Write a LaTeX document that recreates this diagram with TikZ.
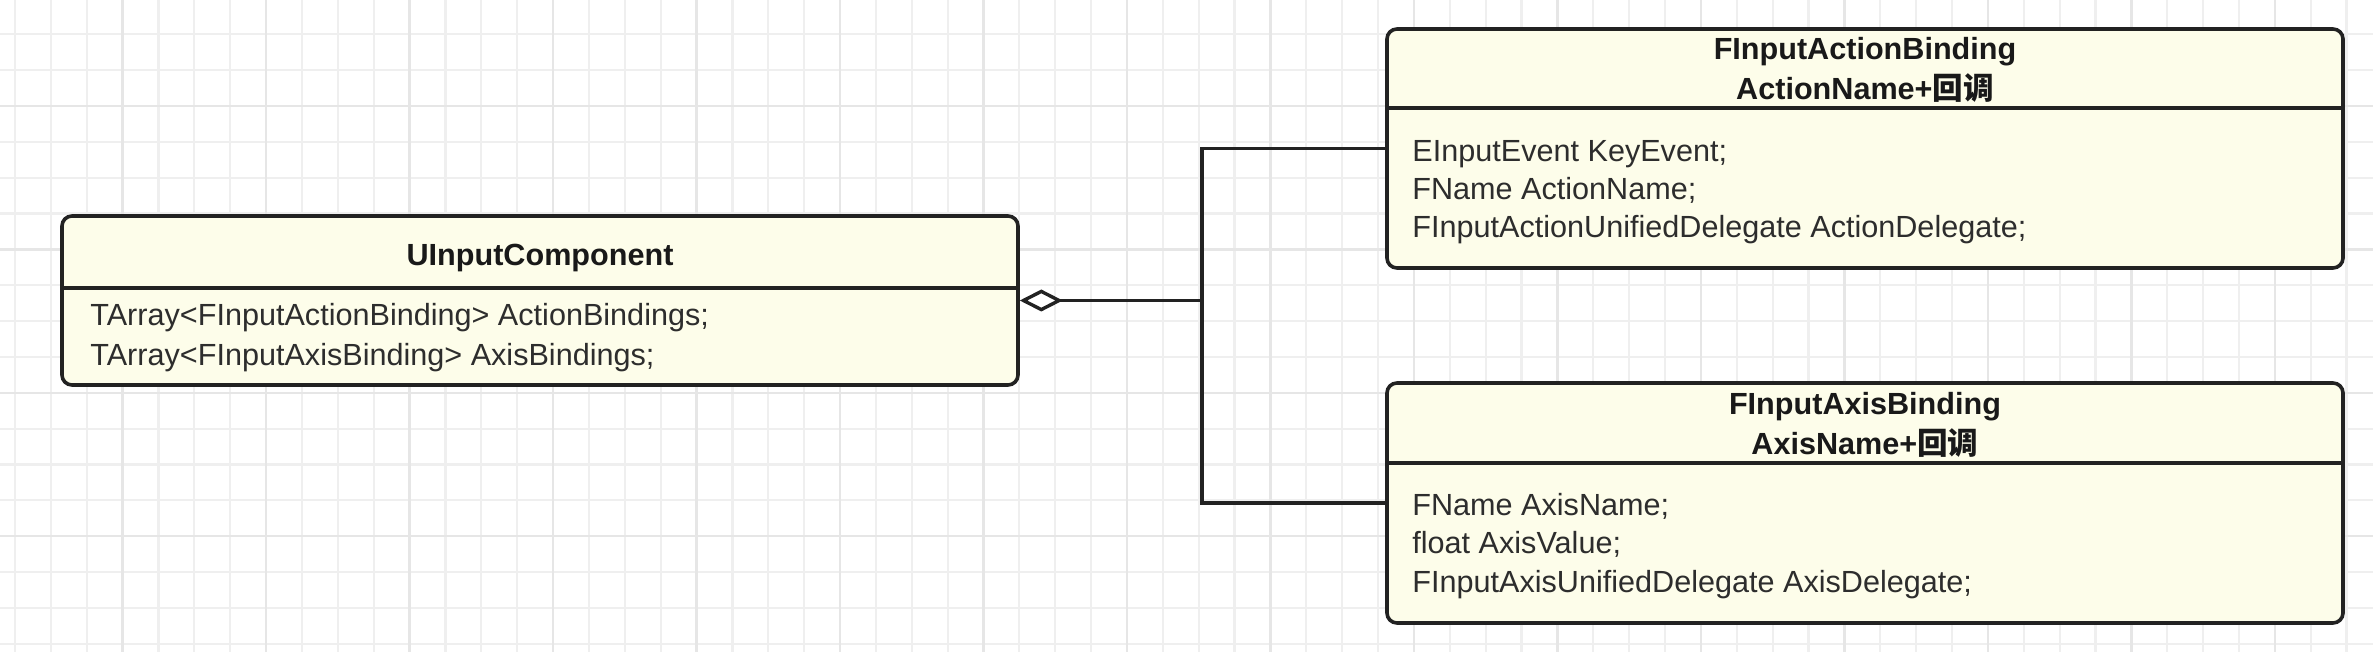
\documentclass[tikz,border=0pt]{standalone}
\usepackage{fontspec}
\setmainfont{Liberation Sans}
\newfontfamily\cjk{Noto Sans CJK SC}
\usetikzlibrary{arrows.meta}
\definecolor{boxfill}{RGB}{253,253,234}
\definecolor{boxline}{RGB}{34,34,34}
\definecolor{gridminor}{RGB}{239,239,239}
\definecolor{gridmajor}{RGB}{230,230,230}
\definecolor{membertext}{RGB}{45,45,45}
\definecolor{titletext}{RGB}{25,25,25}
\tikzset{
  classbox/.style={draw=boxline, line width=1.8pt, fill=boxfill, rounded corners=5pt,
    minimum width=478pt, inner sep=0pt},
  classrule/.style={draw=boxline, line width=1.8pt},
  classtitle/.style={anchor=base, font=\fontsize{15.3}{18}\selectfont\bfseries, text=titletext},
  member/.style={anchor=base west, text=membertext},
  link/.style={draw=boxline, line width=1.7pt},
}

\begin{document}
\begin{tikzpicture}[x=0.5pt, y=-0.5pt, font=\fontsize{15.3}{18}\selectfont]
\tikzstyle{every node}+=[inner sep=0pt]
\fill[white] (0,0) rectangle (2373,652);
\useasboundingbox (0,0) rectangle (2373,652);
\foreach \i in {0,...,65}
  \draw[gridminor, line width=1.1pt] ({15+35.87*\i},0) -- ({15+35.87*\i},652);
\foreach \j in {0,...,17}
  \draw[gridminor, line width=1.1pt] (0,{34.3+35.85*\j}) -- (2373,{34.3+35.85*\j});
\foreach \i in {3,7,...,63}
  \draw[gridmajor, line width=1.2pt] ({15+35.87*\i},0) -- ({15+35.87*\i},652);
\foreach \j in {2,6,...,14}
  \draw[gridmajor, line width=1.2pt] (0,{34.3+35.85*\j}) -- (2373,{34.3+35.85*\j});

\node[classbox, minimum height=84.5pt] (UIC) at (540,300.5) {};
\draw[classrule] (UIC.west |- 0,288) -- (UIC.east |- 0,288);
\node[classtitle] (UICname) at (540,266) {UInputComponent};
\node[member] (UICaction) at (90,326) {TArray<FInputActionBinding> ActionBindings;};
\node[member] (UICaxis) at (90,365) {TArray<FInputAxisBinding> AxisBindings;};

\node[classbox, minimum height=119.5pt] (FIAB) at (1865,148.5) {};
\draw[classrule] (FIAB.west |- 0,108) -- (FIAB.east |- 0,108);
\node[classtitle] (FIABname) at (1865,60) {FInputActionBinding};
\node[classtitle] (FIABnote) at (1865,100) {ActionName+{\cjk\bfseries 回调}};
\node[member] (FIABevent) at (1412,162) {EInputEvent KeyEvent;};
\node[member] (FIABname2) at (1412,200) {FName ActionName;};
\node[member] (FIABdelegate) at (1412,238) {FInputActionUnifiedDelegate ActionDelegate;};

\node[classbox, minimum height=120pt] (FIAxB) at (1865,503) {};
\draw[classrule] (FIAxB.west |- 0,463) -- (FIAxB.east |- 0,463);
\node[classtitle] (FIAxBname) at (1865,415) {FInputAxisBinding};
\node[classtitle] (FIAxBnote) at (1865,454) {AxisName+{\cjk\bfseries 回调}};
\node[member] (FIAxBname2) at (1412,515) {FName AxisName;};
\node[member] (FIAxBvalue) at (1412,553) {float AxisValue;};
\node[member] (FIAxBdelegate) at (1412,592) {FInputAxisUnifiedDelegate AxisDelegate;};

\coordinate (junction) at (1202,300.5);
\draw[link, {Diamond[fill=white, length=21.5pt, width=11pt]}-] (UIC.east) -- (junction);
\draw[link] (FIAB.west) -| (junction) |- (FIAxB.west);
\end{tikzpicture}
\end{document}
